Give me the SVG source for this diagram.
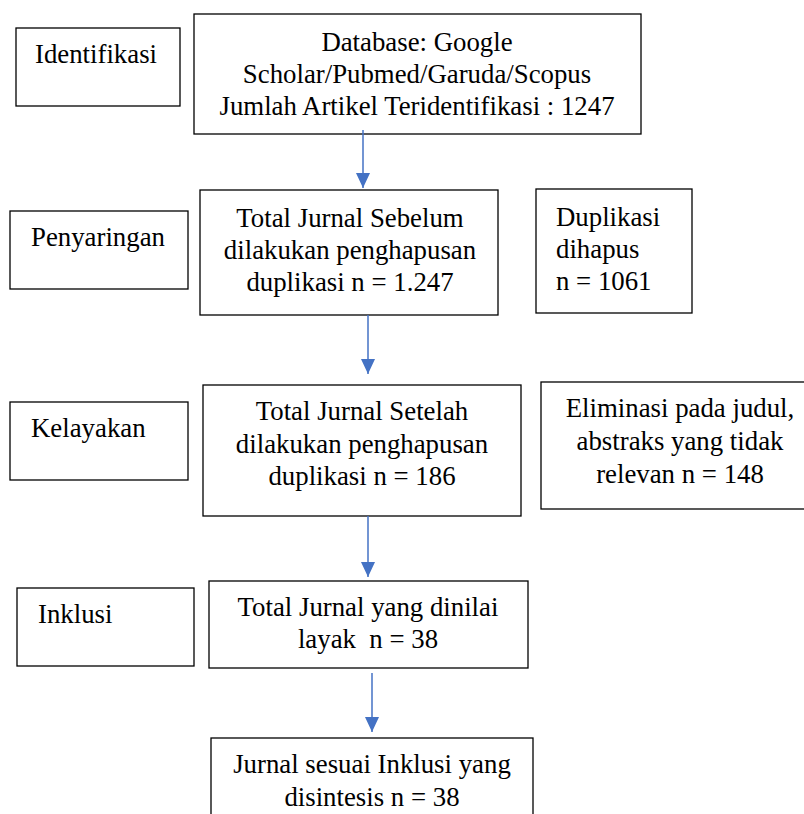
<svg xmlns="http://www.w3.org/2000/svg" width="804" height="814" viewBox="0 0 804 814">
<style>
.box{fill:#fff;stroke:#000;stroke-width:1.3}
.c{text-anchor:middle}
.ln{stroke:#4472C4;stroke-width:1.5;fill:none}
</style>
<defs>
<marker id="ahd" markerWidth="14" markerHeight="16" refX="7" refY="15" markerUnits="userSpaceOnUse" viewBox="0 0 14 16">
<path d="M0,0 L14,0 L7,15 Z" fill="#4472C4"/>
</marker>
</defs>
<rect width="804" height="814" fill="#fff"/>
<g font-family="Liberation Serif, serif" font-size="26.8" fill="#000">
<g id="identifikasi"><rect class="box" x="16" y="28" width="164" height="78"/><text x="35" y="63">Identifikasi</text></g>
<g id="database"><rect class="box" x="194" y="14" width="447" height="120"/>
<text class="c" x="417" y="51">Database: Google</text>
<text class="c" x="417" y="83">Scholar/Pubmed/Garuda/Scopus</text>
<text class="c" x="417" y="115">Jumlah Artikel Teridentifikasi : 1247</text></g>
<g id="penyaringan"><rect class="box" x="10" y="211" width="178" height="78"/><text x="31" y="246">Penyaringan</text></g>
<g id="sebelum"><rect class="box" x="200" y="190" width="298" height="125"/>
<text class="c" x="350" y="227">Total Jurnal Sebelum</text>
<text class="c" x="350" y="259">dilakukan penghapusan</text>
<text class="c" x="350" y="291">duplikasi n = 1.247</text></g>
<g id="duplikasi"><rect class="box" x="536" y="189" width="156" height="124"/>
<text x="556" y="226">Duplikasi</text>
<text x="556" y="258">dihapus</text>
<text x="556" y="290">n = 1061</text></g>
<g id="kelayakan"><rect class="box" x="10" y="402" width="178" height="78"/><text x="31" y="437">Kelayakan</text></g>
<g id="setelah"><rect class="box" x="203" y="385" width="318" height="131"/>
<text class="c" x="362" y="420">Total Jurnal Setelah</text>
<text class="c" x="362" y="453">dilakukan penghapusan</text>
<text class="c" x="362" y="485">duplikasi n = 186</text></g>
<g id="eliminasi"><rect class="box" x="541" y="382" width="270" height="127"/>
<text class="c" x="680" y="417">Eliminasi pada judul,</text>
<text class="c" x="680" y="450">abstraks yang tidak</text>
<text class="c" x="680" y="483">relevan n = 148</text></g>
<g id="inklusi"><rect class="box" x="17" y="588" width="177" height="78"/><text x="38" y="623">Inklusi</text></g>
<g id="layak"><rect class="box" x="209" y="581" width="319" height="87"/>
<text class="c" x="368" y="616">Total Jurnal yang dinilai</text>
<text class="c" x="368" y="648" xml:space="preserve">layak  n = 38</text></g>
<g id="disintesis"><rect class="box" x="211" y="738" width="322" height="90"/>
<text class="c" x="372" y="773">Jurnal sesuai Inklusi yang</text>
<text class="c" x="372" y="806">disintesis n = 38</text></g>
</g>
<g id="connectors">
<line class="ln" x1="363" y1="130" x2="363" y2="188" marker-end="url(#ahd)"/>
<line class="ln" x1="368" y1="315" x2="368" y2="374" marker-end="url(#ahd)"/>
<line class="ln" x1="368" y1="516" x2="368" y2="577" marker-end="url(#ahd)"/>
<line class="ln" x1="372" y1="673" x2="372" y2="732" marker-end="url(#ahd)"/>
</g>
</svg>
